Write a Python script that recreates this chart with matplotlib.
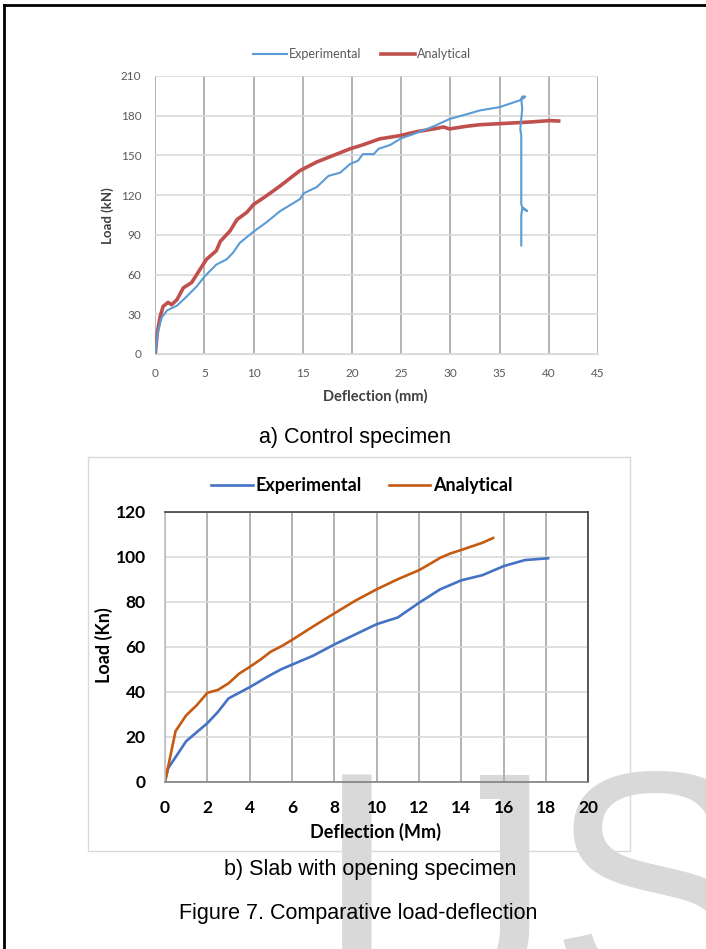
import matplotlib
matplotlib.use("Agg")
import matplotlib.pyplot as plt
from matplotlib.patches import Rectangle
from matplotlib.lines import Line2D
from matplotlib.transforms import Bbox, TransformedBbox

W, H = 706, 949

# ---- a) control specimen (read off the picture) ----
a_exp_x = [0, 0.2, 0.65, 1.2, 2.2, 3.2, 4.2, 5.0, 6.2, 7.25, 7.9, 8.6, 10.0, 11.3,
           12.7, 14.7, 15.1, 16.4, 17.6, 18.8, 19.8, 20.6, 21.1, 22.2, 22.7, 23.9,
           25.0, 26.2, 28.3, 29.9, 31.6, 33.0, 35.0, 37.0, 37.5, 37.6, 37.3, 37.2,
           37.3, 37.1, 37.2, 37.2, 37.2, 37.3, 37.8, 37.3, 37.2, 37.2]
a_exp_y = [0, 15, 27.5, 33, 36.5, 43.5, 51, 58.5, 67.5, 71.5, 76.5, 84, 92.5, 99.5,
           108, 117, 121.5, 126, 134.5, 137, 143.5, 146, 151, 151, 155, 158,
           163, 166, 172, 177.5, 181, 184, 186.5, 191.5, 193.5, 194.5, 194.5, 192.5,
           185, 170, 165, 140, 113, 111, 108, 110, 105, 82]

a_ana_x = [0, 0.2, 0.48, 0.8, 1.3, 1.65, 2.2, 2.85, 3.7, 4.55, 5.2, 6.2, 6.6, 7.6,
           8.3, 9.3, 10.0, 11.3, 12.7, 14.0, 14.7, 16.4, 18.1, 19.8, 21.1, 22.8,
           24.9, 26.6, 28.3, 29.3, 29.9, 31.6, 33.0, 35.0, 38.0, 40.1, 41.0]
a_ana_y = [0, 16, 28, 36, 39, 37.2, 41, 50, 54, 64, 71.5, 78, 85, 93,
           101.5, 107, 113, 119.5, 127, 134.5, 138.5, 145, 150, 155, 158, 162.5,
           165, 168, 170, 171.5, 170, 172, 173.2, 174, 175.2, 176.3, 176]

# ---- b) slab with opening specimen ----
b_exp_x = [0, 0.15, 1, 2, 2.5, 3, 4, 5, 5.5, 6, 7, 8, 9, 10, 11, 12, 13, 14, 15, 16, 17, 18.1]
b_exp_y = [0, 6, 18, 26, 31, 37, 42, 47.5, 50, 52, 56, 61, 65.5, 70, 73, 79.5, 85.5, 89.5, 91.8, 95.8, 98.5, 99.3]

b_ana_x = [0, 0.5, 1, 1.5, 2, 2.5, 3, 3.5, 4, 4.5, 5, 5.5, 6, 7, 8, 9, 10, 11, 12,
           12.5, 13, 13.5, 14, 15, 15.5]
b_ana_y = [0, 22.5, 29.5, 34, 39.5, 40.8, 43.7, 48, 51, 54.2, 57.8, 60.2, 63, 69, 74.8, 80.5, 85.5, 90, 94,
           96.7, 99.5, 101.5, 103, 106.2, 108.3]

# pixel -> figure fraction
def fx(px):
    return px / W

def fy(py):
    return 1 - py / H

fig = plt.figure(figsize=(W / 100, H / 100), dpi=100)
fig.patch.set_facecolor("white")

# page border (only left and top are in view)
fig.add_artist(Line2D([fx(4), fx(4)], [fy(5), 0], color="black", lw=2, transform=fig.transFigure))
fig.add_artist(Line2D([fx(4), 1], [fy(5), fy(5)], color="black", lw=2, transform=fig.transFigure))

# watermark letters, behind the charts (one text per letter to place them)
wm = dict(fontsize=227, family="Liberation Sans", color="#d9d9d9",
          ha="left", va="baseline", zorder=-1)
fig.text(fx(313), fy(992), "I", **wm)
tj = fig.text(fx(394), fy(992), "J", **wm)
# the hook of the J sits below the page in the reference
tj.set_clip_box(TransformedBbox(Bbox([[fx(480), 0], [fx(560), 1]]), fig.transFigure))
fig.text(fx(549), fy(992), "S", **wm)

# ================= chart a =================
ax1 = fig.add_axes([fx(155.3), fy(354), fx(598) - fx(155.3), fy(76) - fy(354)])
ax1.patch.set_alpha(0)
ax1.plot(a_exp_x, a_exp_y, color="#5b9bd5", lw=1.5, label="Experimental", zorder=3)
ax1.plot(a_ana_x, a_ana_y, color="#c0504d", lw=2.6, label="Analytical", zorder=2)
ax1.set_xlim(0, 45)
ax1.set_ylim(0, 210)
ax1.set_xticks(range(0, 46, 5))
ax1.set_yticks(range(0, 211, 30))
for s in ["left", "right", "top"]:
    ax1.spines[s].set_visible(False)
ax1.spines["bottom"].set_color("#d9d9d9")
ax1.xaxis.grid(True, color="#a6a6a6", lw=1.2)
ax1.yaxis.grid(True, color="#d9d9d9", lw=1.2)
ax1.set_axisbelow(True)
ax1.tick_params(length=0, labelsize=8.5, labelcolor="#595959", labelfontfamily="Lato")
ax1.tick_params(axis="x", pad=10)
ax1.tick_params(axis="y", pad=10)
fig.text(fx(375), fy(396.5), "Deflection (mm)", ha="center", va="center",
         fontsize=10.5, fontweight="bold", family="Lato", color="#404040")
fig.text(fx(108), fy(216), "Load (kN)", ha="center", va="center", rotation=90,
         fontsize=9.5, fontweight="bold", family="Lato", color="#404040")
leg1 = ax1.legend(loc="center", bbox_to_anchor=(fx(362), fy(54)), bbox_transform=fig.transFigure,
                  ncol=2, frameon=False, handlelength=2.7, handletextpad=0.15,
                  columnspacing=1.6, prop={"family": "Lato", "size": 9})
for t in leg1.get_texts():
    t.set_color("#595959")

fig.text(fx(355), fy(438), "a) Control specimen", ha="center", va="center",
         fontsize=15.5, family="Liberation Sans")

# ================= chart b =================
fig.add_artist(Rectangle((fx(88), fy(851)), fx(630) - fx(88), fy(457) - fy(851),
                         transform=fig.transFigure, fill=False, edgecolor="#d9d9d9", lw=1))
ax2 = fig.add_axes([fx(165), fy(781.7), fx(588.3) - fx(165), fy(511.7) - fy(781.7)])
ax2.patch.set_alpha(0)
ax2.plot(b_exp_x, b_exp_y, color="#4472c4", lw=1.9, label="Experimental")
ax2.plot(b_ana_x, b_ana_y, color="#c55a11", lw=1.9, label="Analytical")
ax2.set_xlim(0, 20)
ax2.set_ylim(0, 120)
ax2.set_xticks(range(0, 21, 2))
ax2.set_yticks(range(0, 121, 20))
ax2.spines["top"].set_color("#404040")
ax2.spines["right"].set_color("#404040")
ax2.spines["left"].set_color("#bfbfbf")
ax2.spines["bottom"].set_color("#808080")
for s in ax2.spines.values():
    s.set_linewidth(1.2)
ax2.xaxis.grid(True, color="#a6a6a6", lw=1.2)
ax2.yaxis.grid(True, color="#d9d9d9", lw=1.2)
ax2.set_axisbelow(True)
ax2.tick_params(length=0, labelsize=12.5, labelfontfamily="Lato")
for lab in ax2.get_xticklabels() + ax2.get_yticklabels():
    lab.set_fontweight("bold")
ax2.tick_params(axis="x", pad=13)
ax2.tick_params(axis="y", pad=14)
fig.text(fx(375), fy(832), "Deflection (Mm)", ha="center", va="center",
         fontsize=13, fontweight="bold", family="Lato")
fig.text(fx(104), fy(645), "Load (Kn)", ha="center", va="center", rotation=90,
         fontsize=13, fontweight="bold", family="Lato")
ax2.legend(loc="center", bbox_to_anchor=(fx(362), fy(486)), bbox_transform=fig.transFigure,
           ncol=2, frameon=False, handlelength=2.3, handletextpad=0.15, columnspacing=1.5,
           prop={"family": "Lato", "size": 13, "weight": "bold"})

fig.text(fx(370), fy(869), "b) Slab with opening specimen", ha="center", va="center",
         fontsize=15.5, family="Liberation Sans")
fig.text(fx(358), fy(914), "Figure 7. Comparative load-deflection", ha="center", va="center",
         fontsize=15.5, family="Liberation Sans")

fig.savefig("out.png", dpi=100)
